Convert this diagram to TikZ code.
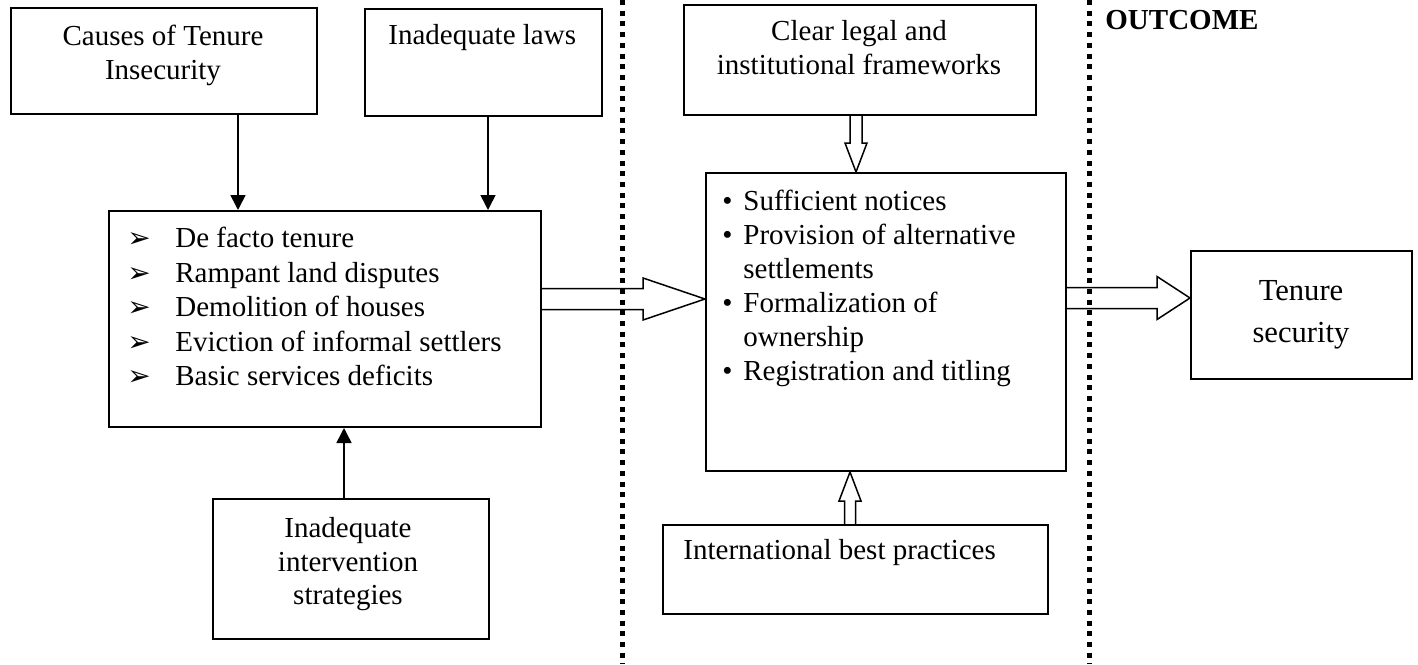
\documentclass[tikz,border=0pt]{standalone}
\usepackage{fontspec}
\setmainfont{Liberation Serif}
\newfontfamily\symfont{DejaVu Sans}
\usetikzlibrary{
    arrows.meta,
    calc,
    positioning
}
\newcommand{\arrbul}{\makebox[24pt][l]{\symfont\fontsize{14}{14}\selectfont ➢}}
\newcommand{\dotbul}{\makebox[10.5pt][l]{•}}
\newcommand{\fatarrow}[5]{%
    \coordinate (fa-s) at (#1);
    \coordinate (fa-t) at (#2);
    \coordinate (fa-h) at ($(fa-t)!#5!(fa-s)$);
    \draw[hollow] ($(fa-s)!#3!90:(fa-t)$) -- ($(fa-h)!#3!90:(fa-t)$) -- ($(fa-h)!#4!90:(fa-t)$)
        -- (fa-t) -- ($(fa-h)!#4!-90:(fa-t)$) -- ($(fa-h)!#3!-90:(fa-t)$) -- ($(fa-s)!#3!-90:(fa-t)$);}

\begin{document}
\begin{tikzpicture}[x=0.5pt, y=-0.5pt,
    box/.style={draw, line width=1pt, anchor=north west, inner sep=0pt},
    txt/.style={inner sep=0pt, font=\fontsize{14.5}{16.75}\selectfont, align=center},
    thin/.style={line width=0.8pt, -{Triangle[length=7.5pt, width=7.5pt]}},
    hollow/.style={line width=0.75pt, line join=miter},
    sep/.style={line width=2.5pt, dash pattern=on 2.5pt off 2.85pt}]
    \useasboundingbox (0,0) rectangle (1418,664);

    % dotted separators
    \draw[sep] (622,0) -- (622,664);
    \draw[sep] (1089,0) -- (1089,664);

    % boxes
    \node[box, minimum width=153pt, minimum height=53pt] (causes) at (10,7) {};
    \node[box, minimum width=118.5pt, minimum height=53.5pt] (laws) at (364,8) {};
    \node[box, minimum width=216pt, minimum height=108pt] (main) at (108,210) {};
    \node[box, minimum width=138pt, minimum height=70pt] (intv) at (212,498) {};
    \node[box, minimum width=176pt, minimum height=55pt] (clear) at (683,4) {};
    \node[box, minimum width=180pt, minimum height=149pt] (centre) at (705,172) {};
    \node[box, minimum width=192.5pt, minimum height=44.5pt] (intl) at (662,524) {};
    \node[box, minimum width=110.5pt, minimum height=64pt] (tenure) at (1190,250) {};

    % texts
    \node[txt, anchor=north] (causestxt) at (163,25) {Causes of Tenure\\Insecurity};
    \node[txt, anchor=north west] (lawstxt) at (388,24) {Inadequate laws};
    \node[txt, anchor=north west, align=left, font=\fontsize{14.5}{17.25}\selectfont] (maintxt) at (127,227)
        {\arrbul De facto tenure\\ \arrbul Rampant land disputes\\ \arrbul Demolition of houses\\
         \arrbul Eviction of informal settlers\\ \arrbul Basic services deficits};
    \node[txt, anchor=north] (intvtxt) at (348,517) {Inadequate\\intervention\\strategies};
    \node[txt, anchor=north] (cleartxt) at (859,20) {Clear legal and\\institutional frameworks};
    \node[txt, anchor=north west, align=left, font=\fontsize{14.5}{17}\selectfont] (centretxt) at (722,190)
        {\dotbul Sufficient notices\\ \dotbul Provision of alternative\\ \hspace*{10.5pt}settlements\\
         \dotbul Formalization of\\ \hspace*{10.5pt}ownership\\ \dotbul Registration and titling};
    \node[txt, anchor=north west] (intltxt) at (683,539) {International best practices};
    \node[txt, anchor=north, font=\fontsize{15.3}{21}\selectfont] (tenuretxt) at (1301,280) {Tenure\\security};
    \node[txt, anchor=north west] (outcome) at (1105,10) {\bfseries OUTCOME};

    % connectors
    \coordinate (ca) at (238,0);
    \coordinate (la) at (488,0);
    \coordinate (ia) at (344,0);
    \draw[thin] (causes.south -| ca) -- (main.north -| ca);
    \draw[thin] (laws.south -| la) -- (main.north -| la);
    \draw[thin] (intv.north -| ia) -- (main.south -| ia);

    \coordinate (h1) at (0,299);
    \coordinate (h2) at (0,298);
    \coordinate (v1) at (856,0);
    \coordinate (v2) at (850,0);
    \fatarrow{main.east |- h1}{centre.west |- h1}{5.25pt}{10.5pt}{31pt}
    \fatarrow{centre.east |- h2}{tenure.west |- h2}{5.25pt}{10.75pt}{16.5pt}
    \fatarrow{clear.south -| v1}{centre.north -| v1}{3pt}{5.5pt}{14.5pt}
    \fatarrow{intl.north -| v2}{centre.south -| v2}{2.75pt}{5.5pt}{14.5pt}
\end{tikzpicture}
\end{document}
